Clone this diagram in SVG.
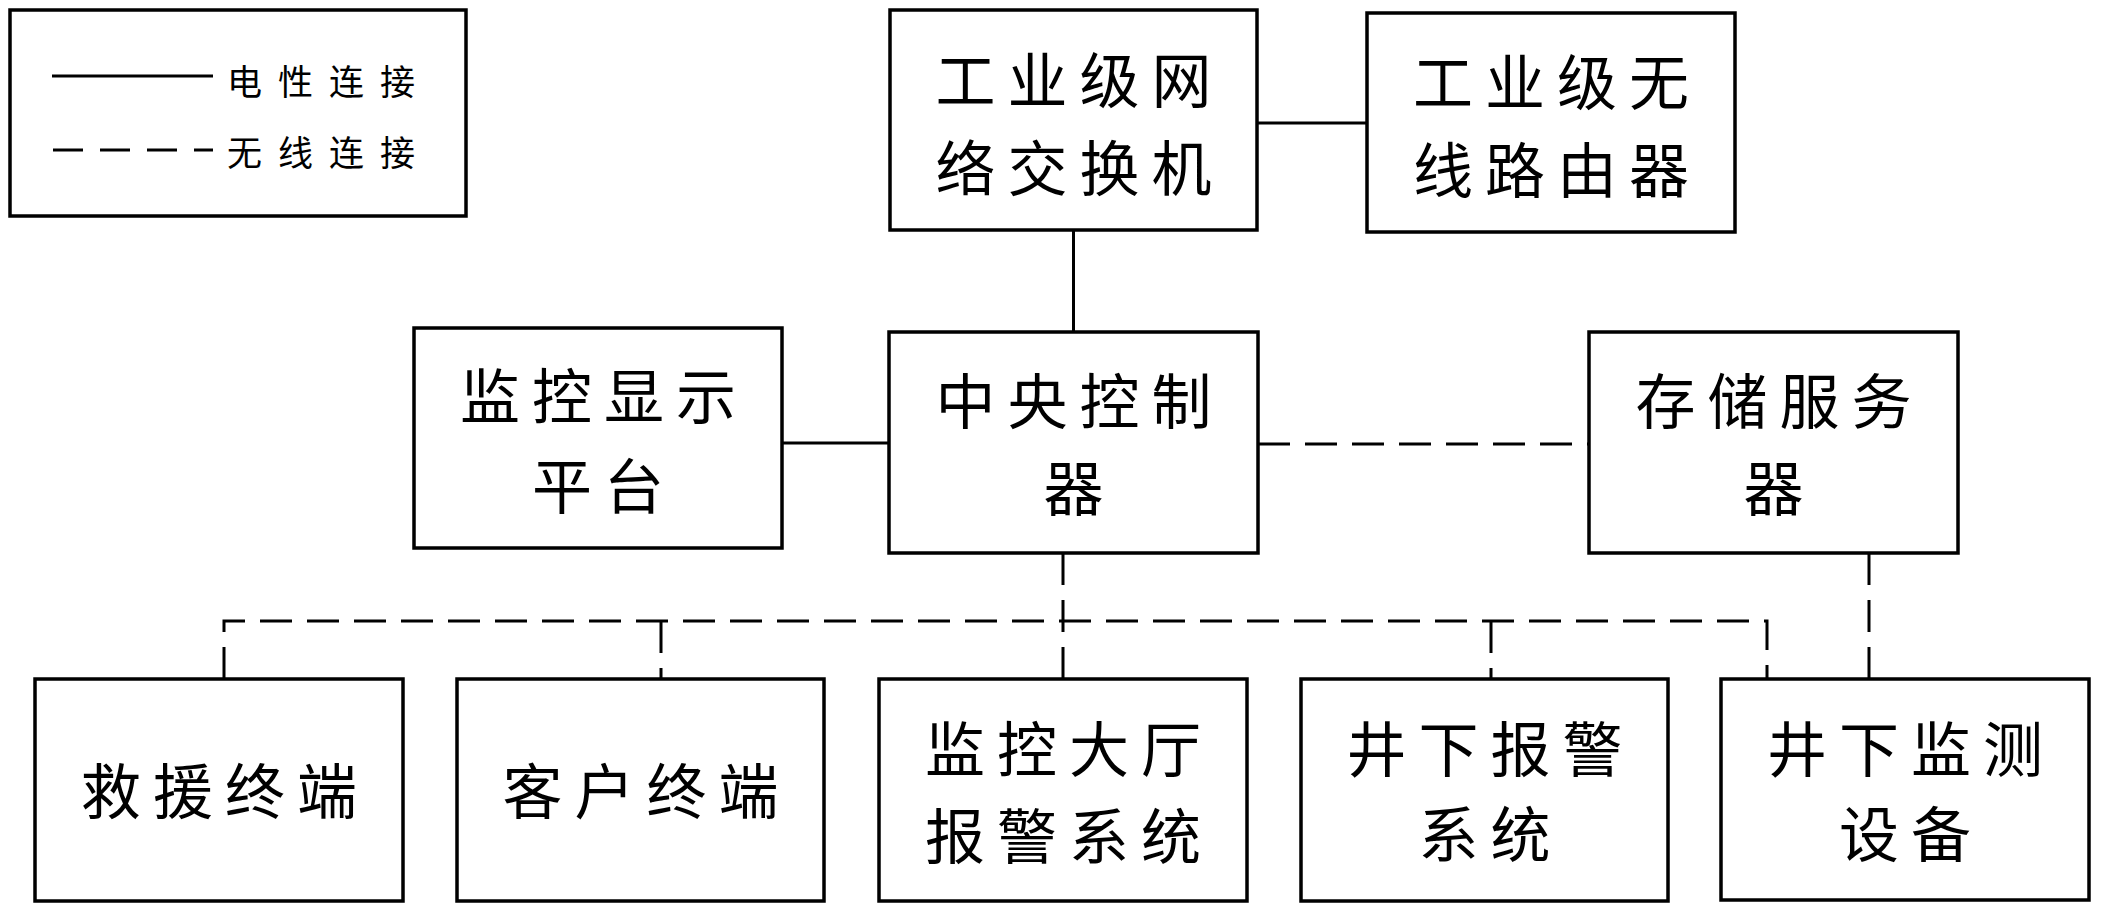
<svg xmlns="http://www.w3.org/2000/svg" width="2101" height="912" viewBox="0 0 2101 912">
<style>
.box{fill:#fff;stroke:#000;stroke-width:3.5}
.t{font-family:"Noto Sans CJK SC","Noto Sans CJK JP",sans-serif;font-size:60px;letter-spacing:12px;text-anchor:middle;dominant-baseline:central;fill:#000}
.lg{font-family:"Noto Sans CJK SC","Noto Sans CJK JP",sans-serif;font-size:35px;letter-spacing:16px;dominant-baseline:central;fill:#000}
.s{stroke:#000;stroke-width:3;fill:none}
.d{stroke:#000;stroke-width:3;fill:none;stroke-dasharray:32 15}
</style>
<rect width="2101" height="912" fill="#fff"/>
<g id="legend">
<rect class="box" x="10" y="10" width="456" height="206"/>
<line class="s" x1="52" y1="76" x2="213" y2="76"/>
<line class="s" x1="53" y1="150" x2="213" y2="150" stroke-dasharray="30 17"/>
<text class="lg" x="227" y="79">电性连接</text>
<text class="lg" x="227" y="150">无线连接</text>
</g>
<g id="connectors">
<line class="s" x1="1257" y1="123" x2="1367" y2="123"/>
<line class="s" x1="1073.5" y1="230" x2="1073.5" y2="332"/>
<line class="s" x1="782" y1="443" x2="889" y2="443"/>
<line class="d" x1="1258" y1="444" x2="1589" y2="444"/>
<line class="d" x1="1063" y1="553" x2="1063" y2="679"/>
<polyline class="d" points="224,679 224,621 1767,621 1767,679"/>
<line class="d" x1="661" y1="621" x2="661" y2="679"/>
<line class="d" x1="1491" y1="621" x2="1491" y2="679"/>
<line class="d" x1="1869" y1="553" x2="1869" y2="679"/>
</g>
<g id="switch">
<rect class="box" x="890" y="10" width="367" height="220"/>
<text class="t" x="1079.5" y="76">工业级网</text>
<text class="t" x="1079.5" y="164">络交换机</text>
</g>
<g id="router">
<rect class="box" x="1367" y="13" width="368" height="219"/>
<text class="t" x="1557" y="78">工业级无</text>
<text class="t" x="1557" y="166">线路由器</text>
</g>
<g id="monitor-display">
<rect class="box" x="414" y="328" width="368" height="220"/>
<text class="t" x="604" y="392">监控显示</text>
<text class="t" x="604" y="482">平台</text>
</g>
<g id="central-controller">
<rect class="box" x="889" y="332" width="369" height="221"/>
<text class="t" x="1079.5" y="397">中央控制</text>
<text class="t" x="1079.5" y="484">器</text>
</g>
<g id="storage-server">
<rect class="box" x="1589" y="332" width="369" height="221"/>
<text class="t" x="1779.5" y="397">存储服务</text>
<text class="t" x="1779.5" y="484">器</text>
</g>
<g id="rescue-terminal">
<rect class="box" x="35" y="679" width="368" height="222"/>
<text class="t" x="225" y="787">救援终端</text>
</g>
<g id="client-terminal">
<rect class="box" x="457" y="679" width="367" height="222"/>
<text class="t" x="646.5" y="787">客户终端</text>
</g>
<g id="hall-alarm">
<rect class="box" x="879" y="679" width="368" height="222"/>
<text class="t" x="1069" y="745">监控大厅</text>
<text class="t" x="1069" y="832">报警系统</text>
</g>
<g id="underground-alarm">
<rect class="box" x="1301" y="679" width="367" height="222"/>
<text class="t" x="1490.5" y="745">井下报警</text>
<text class="t" x="1490.5" y="830">系统</text>
</g>
<g id="underground-monitor">
<rect class="box" x="1721" y="679" width="368" height="221"/>
<text class="t" x="1911" y="745">井下监测</text>
<text class="t" x="1911" y="830">设备</text>
</g>
</svg>
